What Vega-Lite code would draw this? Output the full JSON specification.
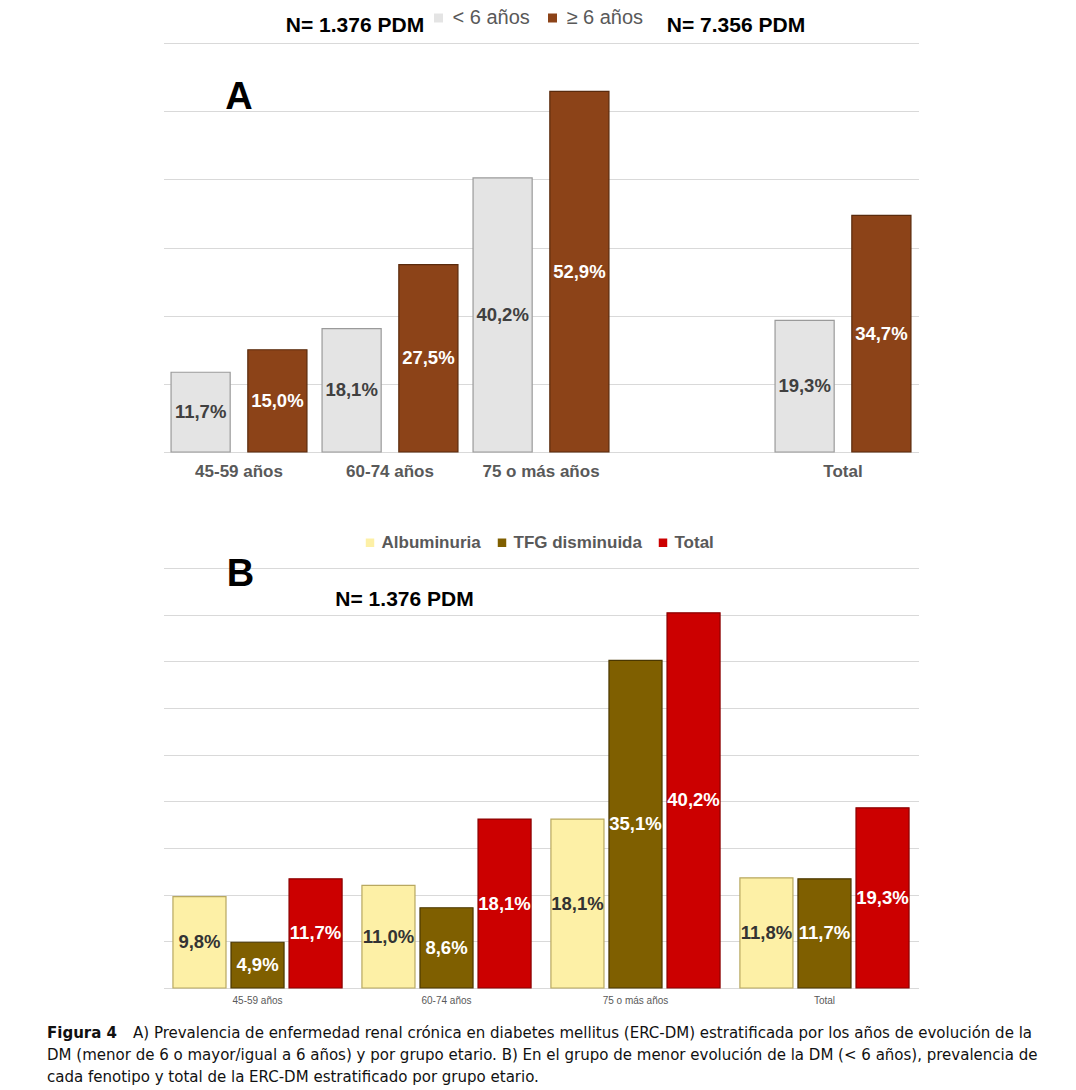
{
  "$schema": "https://vega.github.io/schema/vega-lite/v6.json",
  "background": "white",
  "padding": {"left": 36, "top": 8, "right": 0, "bottom": 0},
  "config": {"view": {"stroke": null}},
  "center": true,
  "spacing": 17,
  "vconcat": [
    {
      "center": true,
      "spacing": 55,
      "resolve": {"scale": {"color": "independent", "stroke": "independent", "xOffset": "independent"}, "legend": {"color": "independent"}},
      "vconcat": [
        {
          "width": 755,
          "height": 409,
          "data": {"values": [
            {"grupo": "45-59 años", "serie": "< 6 años", "valor": 11.7, "etiqueta": "11,7%"},
            {"grupo": "45-59 años", "serie": "≥ 6 años", "valor": 15.0, "etiqueta": "15,0%"},
            {"grupo": "60-74 años", "serie": "< 6 años", "valor": 18.1, "etiqueta": "18,1%"},
            {"grupo": "60-74 años", "serie": "≥ 6 años", "valor": 27.5, "etiqueta": "27,5%"},
            {"grupo": "75 o más años", "serie": "< 6 años", "valor": 40.2, "etiqueta": "40,2%"},
            {"grupo": "75 o más años", "serie": "≥ 6 años", "valor": 52.9, "etiqueta": "52,9%"},
            {"grupo": "Total", "serie": "< 6 años", "valor": 19.3, "etiqueta": "19,3%"},
            {"grupo": "Total", "serie": "≥ 6 años", "valor": 34.7, "etiqueta": "34,7%"}
          ]},
          "resolve": {"scale": {"y": "independent"}},
          "layer": [
            {
              "mark": {"type": "bar", "strokeWidth": 1.2},
              "encoding": {
                "x": {"field": "grupo", "type": "nominal", "sort": null,
                  "scale": {"domain": ["45-59 años", "60-74 años", "75 o más años", " ", "Total"], "paddingInner": 0.1, "paddingOuter": 0.05},
                  "axis": {"title": null, "labelAngle": 0, "ticks": false, "domain": false, "labelFont": "Liberation Sans", "labelFontSize": 17, "labelFontWeight": "bold", "labelColor": "#595959", "labelPadding": 11}},
                "xOffset": {"field": "serie", "type": "nominal", "sort": null, "scale": {"domain": ["< 6 años", "≥ 6 años"], "paddingInner": 0.23}},
                "y": {"field": "valor", "type": "quantitative", "scale": {"domain": [0, 60], "nice": false},
                  "axis": {"title": null, "values": [0, 10, 20, 30, 40, 50, 60], "labels": false, "ticks": false, "domain": false, "gridColor": "#d9d9d9", "gridWidth": 1}},
                "color": {"field": "serie", "type": "nominal",
                  "scale": {"domain": ["< 6 años", "≥ 6 años"], "range": ["#E4E4E4", "#8C4318"]},
                  "legend": {"title": null, "orient": "none", "legendX": 265, "legendY": -35, "direction": "horizontal", "symbolType": "square", "symbolSize": 81, "symbolStrokeWidth": 0, "labelFont": "Liberation Sans", "labelFontSize": 20, "labelColor": "#595959", "labelOffset": 4, "columnPadding": 12}},
                "stroke": {"field": "serie", "type": "nominal",
                  "scale": {"domain": ["< 6 años", "≥ 6 años"], "range": ["#9a9a9a", "#5a2a0c"]}, "legend": null}
              }
            },
            {
              "mark": {"type": "text", "font": "Liberation Sans", "fontSize": 18.5, "fontWeight": "bold", "baseline": "middle"},
              "encoding": {
                "x": {"field": "grupo", "type": "nominal", "sort": null},
                "xOffset": {"field": "serie", "type": "nominal", "sort": null},
                "y": {"field": "valor", "type": "quantitative", "scale": {"domain": [0, 120], "nice": false}, "axis": null},
                "text": {"field": "etiqueta"},
                "color": {"condition": {"test": "datum.serie === '< 6 años'", "value": "#404040"}, "value": "#ffffff"}
              }
            },
            {
              "data": {"values": [{"t": "A"}]},
              "mark": {"type": "text", "font": "Liberation Sans", "fontSize": 38, "fontWeight": "bold", "color": "#000000", "baseline": "middle"},
              "encoding": {
                "x": {"datum": "45-59 años", "type": "nominal"},
                "y": {"datum": 52, "type": "quantitative", "scale": {"domain": [0, 60], "nice": false}, "axis": null},
                "text": {"field": "t"}
              }
            },
            {
              "data": {"values": [{"t": "N= 1.376 PDM"}]},
              "mark": {"type": "text", "font": "Liberation Sans", "fontSize": 21, "fontWeight": "bold", "color": "#000000", "baseline": "middle", "dx": -35},
              "encoding": {
                "x": {"datum": "60-74 años", "type": "nominal"},
                "y": {"datum": 62.5, "type": "quantitative", "scale": {"domain": [0, 60], "nice": false}, "axis": null},
                "text": {"field": "t"}
              }
            },
            {
              "data": {"values": [{"t": "N= 7.356 PDM"}]},
              "mark": {"type": "text", "font": "Liberation Sans", "fontSize": 21, "fontWeight": "bold", "color": "#000000", "baseline": "middle", "dx": 44},
              "encoding": {
                "x": {"datum": " ", "type": "nominal"},
                "y": {"datum": 62.5, "type": "quantitative", "scale": {"domain": [0, 60], "nice": false}, "axis": null},
                "text": {"field": "t"}
              }
            }
          ]
        },
        {
          "width": 755,
          "height": 420,
          "data": {"values": [
            {"grupo": "45-59 años", "serie": "Albuminuria", "valor": 9.8, "etiqueta": "9,8%"},
            {"grupo": "45-59 años", "serie": "TFG disminuida", "valor": 4.9, "etiqueta": "4,9%"},
            {"grupo": "45-59 años", "serie": "Total", "valor": 11.7, "etiqueta": "11,7%"},
            {"grupo": "60-74 años", "serie": "Albuminuria", "valor": 11.0, "etiqueta": "11,0%"},
            {"grupo": "60-74 años", "serie": "TFG disminuida", "valor": 8.6, "etiqueta": "8,6%"},
            {"grupo": "60-74 años", "serie": "Total", "valor": 18.1, "etiqueta": "18,1%"},
            {"grupo": "75 o más años", "serie": "Albuminuria", "valor": 18.1, "etiqueta": "18,1%"},
            {"grupo": "75 o más años", "serie": "TFG disminuida", "valor": 35.1, "etiqueta": "35,1%"},
            {"grupo": "75 o más años", "serie": "Total", "valor": 40.2, "etiqueta": "40,2%"},
            {"grupo": "Total", "serie": "Albuminuria", "valor": 11.8, "etiqueta": "11,8%"},
            {"grupo": "Total", "serie": "TFG disminuida", "valor": 11.7, "etiqueta": "11,7%"},
            {"grupo": "Total", "serie": "Total", "valor": 19.3, "etiqueta": "19,3%"}
          ]},
          "resolve": {"scale": {"y": "independent"}},
          "layer": [
            {
              "mark": {"type": "bar", "strokeWidth": 1.2},
              "encoding": {
                "x": {"field": "grupo", "type": "nominal", "sort": null,
                  "scale": {"domain": ["45-59 años", "60-74 años", "75 o más años", "Total"], "paddingInner": 0.105, "paddingOuter": 0.05},
                  "axis": {"title": null, "labelAngle": 0, "ticks": false, "domain": false, "labelFont": "Liberation Sans", "labelFontSize": 10, "labelColor": "#595959", "labelPadding": 7}},
                "xOffset": {"field": "serie", "type": "nominal", "sort": null, "scale": {"domain": ["Albuminuria", "TFG disminuida", "Total"], "paddingInner": 0.086}},
                "y": {"field": "valor", "type": "quantitative", "scale": {"domain": [0, 45], "nice": false},
                  "axis": {"title": null, "values": [0, 5, 10, 15, 20, 25, 30, 35, 40, 45], "labels": false, "ticks": false, "domain": false, "gridColor": "#d9d9d9", "gridWidth": 1}},
                "color": {"field": "serie", "type": "nominal",
                  "scale": {"domain": ["Albuminuria", "TFG disminuida", "Total"], "range": ["#FDF0A6", "#7F5F00", "#CC0000"]},
                  "legend": {"title": null, "orient": "none", "legendX": 198, "legendY": -34, "direction": "horizontal", "symbolType": "square", "symbolSize": 72, "symbolStrokeWidth": 0, "labelFont": "Liberation Sans", "labelFontSize": 17, "labelFontWeight": "bold", "labelColor": "#595959", "labelOffset": 3, "columnPadding": 12}},
                "stroke": {"field": "serie", "type": "nominal",
                  "scale": {"domain": ["Albuminuria", "TFG disminuida", "Total"], "range": ["#b8a860", "#4a3700", "#8a0000"]}, "legend": null}
              }
            },
            {
              "mark": {"type": "text", "font": "Liberation Sans", "fontSize": 18.5, "fontWeight": "bold", "baseline": "middle"},
              "encoding": {
                "x": {"field": "grupo", "type": "nominal", "sort": null},
                "xOffset": {"field": "serie", "type": "nominal", "sort": null},
                "y": {"field": "valor", "type": "quantitative", "scale": {"domain": [0, 90], "nice": false}, "axis": null},
                "text": {"field": "etiqueta"},
                "color": {"condition": {"test": "datum.serie === 'Albuminuria'", "value": "#333333"}, "value": "#ffffff"}
              }
            },
            {
              "data": {"values": [{"t": "B"}]},
              "mark": {"type": "text", "font": "Liberation Sans", "fontSize": 38, "fontWeight": "bold", "color": "#000000", "baseline": "middle", "dx": -17},
              "encoding": {
                "x": {"datum": "45-59 años", "type": "nominal"},
                "y": {"datum": 44.25, "type": "quantitative", "scale": {"domain": [0, 45], "nice": false}, "axis": null},
                "text": {"field": "t"}
              }
            },
            {
              "data": {"values": [{"t": "N= 1.376 PDM"}]},
              "mark": {"type": "text", "font": "Liberation Sans", "fontSize": 21, "fontWeight": "bold", "color": "#000000", "baseline": "middle", "dx": -42},
              "encoding": {
                "x": {"datum": "60-74 años", "type": "nominal"},
                "y": {"datum": 41.57, "type": "quantitative", "scale": {"domain": [0, 45], "nice": false}, "axis": null},
                "text": {"field": "t"}
              }
            }
          ]
        }
      ]
    },
    {
      "width": 1010,
      "height": 66,
      "layer": [
        {
          "data": {"values": [{"t": "Figura 4"}]},
          "mark": {"type": "text", "align": "left", "baseline": "middle", "font": "DejaVu Sans Condensed", "fontSize": 16.7, "fontWeight": "bold", "color": "#111111", "dx": 11},
          "encoding": {
            "x": {"datum": 0, "type": "quantitative", "scale": {"domain": [0, 1]}, "axis": null},
            "y": {"datum": "1", "type": "ordinal", "scale": {"domain": ["1", "2", "3"]}, "axis": null},
            "text": {"field": "t"}
          }
        },
        {
          "data": {"values": [{"t": "A) Prevalencia de enfermedad renal crónica en diabetes mellitus (ERC-DM) estratificada por los años de evolución de la"}]},
          "mark": {"type": "text", "align": "left", "baseline": "middle", "font": "DejaVu Sans Condensed", "fontSize": 16.7, "color": "#111111", "dx": 97},
          "encoding": {
            "x": {"datum": 0, "type": "quantitative", "scale": {"domain": [0, 1]}, "axis": null},
            "y": {"datum": "1", "type": "ordinal", "scale": {"domain": ["1", "2", "3"]}, "axis": null},
            "text": {"field": "t"}
          }
        },
        {
          "data": {"values": [
            {"linea": "2", "t": "DM (menor de 6 o mayor/igual a 6 años) y por grupo etario. B) En el grupo de menor evolución de la DM (< 6 años), prevalencia de"},
            {"linea": "3", "t": "cada fenotipo y total de la ERC-DM estratificado por grupo etario."}
          ]},
          "mark": {"type": "text", "align": "left", "baseline": "middle", "font": "DejaVu Sans Condensed", "fontSize": 16.7, "color": "#111111", "dx": 11},
          "encoding": {
            "x": {"datum": 0, "type": "quantitative", "scale": {"domain": [0, 1]}, "axis": null},
            "y": {"field": "linea", "type": "ordinal", "scale": {"domain": ["1", "2", "3"]}, "axis": null},
            "text": {"field": "t"}
          }
        }
      ]
    }
  ]
}
